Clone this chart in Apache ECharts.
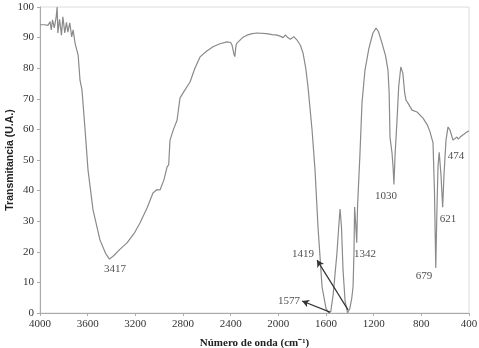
<!DOCTYPE html>
<html><head><meta charset="utf-8">
<script src="https://cdn.jsdelivr.net/npm/echarts@6/dist/echarts.min.js"></script>
<style>html,body{margin:0;padding:0;background:#fff}#c{width:479px;height:348px}</style>
</head><body><div id="c"></div>
<script>
var wavenumbers = [4000,3960,3933,3916,3905,3895,3880,3865,3856,3850,3836,3820,3808,3792,3778,3766,3750,3734,3722,3706,3690,3680,3664,3648,3622,3597,3555,3497,3450,3417,3380,3330,3270,3210,3161,3100,3052,3020,2993,2960,2934,2920,2909,2880,2850,2825,2790,2741,2700,2657,2600,2548,2490,2431,2400,2389,2372,2365,2355,2347,2300,2263,2220,2179,2100,2050,2011,1980,1960,1940,1927,1900,1870,1843,1815,1793,1770,1751,1717,1692,1667,1633,1600,1590,1577,1560,1540,1508,1490,1482,1470,1457,1440,1419,1400,1385,1373,1365,1360,1352,1342,1335,1315,1298,1273,1240,1206,1180,1160,1130,1100,1080,1070,1063,1046,1036,1030,1020,1004,990,972,955,940,929,912,878,836,786,750,727,702,690,679,670,660,650,635,621,610,593,576,560,534,501,490,474,460,440,417,400];
var transmittance = [94.2,94.2,94.0,95.2,92.5,95.8,93.2,96.5,100,91.5,96.0,90.8,96.8,91.5,95.0,91.8,94.8,90.2,92.5,88.2,88.6,84.3,76.0,73.0,60.0,46.7,33.7,23.9,19.5,17.6,18.8,20.8,22.9,26.0,29.4,34.5,39.2,40.3,40.2,43.5,47.7,48.5,56.5,60.0,63.0,70.3,72.5,75.5,80.0,83.7,85.6,87.0,88.0,88.6,88.4,87.6,84.5,83.8,87.5,88.2,90.0,90.8,91.3,91.5,91.3,91.0,90.8,90.4,90.0,90.9,90.2,89.5,90.3,89.2,87.5,85.0,80.0,73.9,59.8,46.7,28.0,8.5,1.5,0.8,0.0,0.5,6.0,19.6,30.0,34.0,28.0,14.0,4.0,0.0,1.5,4.5,8.5,20.0,34.6,30.0,23.0,35.0,52.0,68.6,79.4,86.5,91.5,93.1,92.0,88.2,84.0,79.4,72.0,57.5,52.3,47.0,42.0,52.0,63.0,74.0,80.4,78.4,72.0,69.6,68.6,66.3,65.7,63.7,61.5,59.2,55.6,40.0,14.7,32.0,48.0,52.5,45.0,34.6,45.0,56.5,60.8,59.8,56.5,57.5,56.8,57.5,58.0,58.5,59.2,59.5];
var peakLabels = ["3417","1419","1577","1342","1030","679","621","474"];
var peakLabelX = [3371,1793,1910,1273,1096,778,576,509];
var peakLabelY = [14.4,19.3,3.9,19.3,38.2,12.1,30.7,51.3];
var arrowFrom = [[1415,1.0],[1566,0.3]];
var arrowTo = [[1675,17.3],[1801,3.9]];

var lineData = wavenumbers.map(function(w,i){return [w, transmittance[i]];});
var labelData = peakLabels.map(function(t,i){return {name:t, value:[peakLabelX[i], peakLabelY[i]]};});
var arrowData = arrowFrom.map(function(f,i){return [{coord:f},{coord:arrowTo[i]}];});
var serif = '"Liberation Serif","Times New Roman",serif';

var chart = echarts.init(document.getElementById('c'), null, {renderer:'canvas'});
chart.setOption({
  animation:false,
  grid:{left:40,right:10,top:7,bottom:35,containLabel:false,outerBoundsMode:'none',show:true,borderColor:'#dcdcdc',borderWidth:1},
  xAxis:{type:'value',inverse:true,min:400,max:4000,interval:400,
    name:'Número de onda (cm\u207B\u00B9)',nameLocation:'middle',nameGap:25,nameMoveOverlap:false,
    nameTextStyle:{fontFamily:serif,fontWeight:'bold',fontSize:11,color:'#222'},
    axisLine:{lineStyle:{color:'#aaa',width:1}},
    axisTick:{show:true,length:3,lineStyle:{color:'#aaa'}},
    axisLabel:{fontFamily:serif,fontSize:11,color:'#333',margin:6,formatter:function(v){return String(v);}},
    splitLine:{show:false}},
  yAxis:{type:'value',min:0,max:100,interval:10,
    name:'Transmitancia (U.A.)',nameLocation:'middle',nameGap:24,nameMoveOverlap:false,
    nameTextStyle:{fontFamily:'"Liberation Sans",Arial,sans-serif',fontWeight:'bold',fontSize:10.5,color:'#222'},
    axisLine:{show:true,lineStyle:{color:'#aaa',width:1}},
    axisTick:{show:true,length:3,lineStyle:{color:'#aaa'}},
    axisLabel:{fontFamily:serif,fontSize:11,color:'#333',margin:6,formatter:function(v){return String(v);}},
    splitLine:{show:false}},
  series:[
    {type:'line',data:lineData,showSymbol:false,symbol:'none',
     lineStyle:{color:'#8a8a8a',width:1.2},z:2,
     markLine:{silent:true,symbol:['none','arrow'],symbolSize:[6,7],
       lineStyle:{color:'#333',width:1.2,type:'solid'},label:{show:false},data:arrowData}},
    {type:'scatter',data:labelData,symbolSize:0,z:5,
     label:{show:true,position:'inside',formatter:'{b}',fontFamily:serif,fontSize:11,color:'#222'}}
  ]
});
</script></body></html>
